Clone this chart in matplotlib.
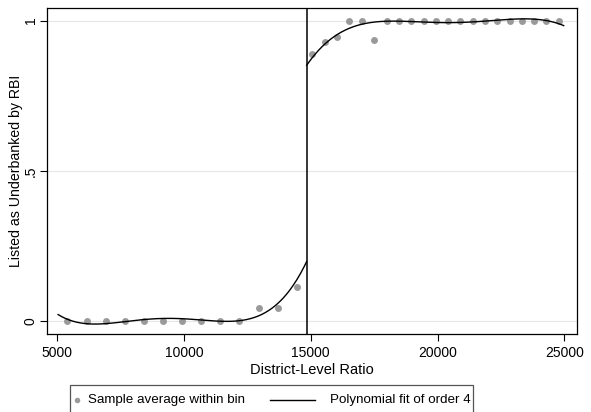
import numpy as np
import matplotlib.pyplot as plt
from matplotlib.patches import Rectangle
from matplotlib.lines import Line2D

plt.rcParams['font.family'] = ['Liberation Sans', 'DejaVu Sans']

# --- data ---
cutoff = 14840

# binned sample averages, left of cutoff
left_x = [5395, 6158, 6908, 7658, 8408, 9171, 9934, 10684, 11434, 12184, 12961, 13697, 14447]
left_y = [0.0, 0.0, 0.0, 0.0, 0.0, 0.0, 0.0, 0.0, 0.0, 0.0, 0.043, 0.043, 0.114]

# binned sample averages, right of cutoff
right_x = [15065, 15566, 16052, 16526, 17015, 17513, 18002, 18476, 18962, 19447, 19921,
           20410, 20896, 21382, 21871, 22357, 22843, 23332, 23818, 24292, 24777]
right_y = [0.889, 0.928, 0.947, 0.999, 1.0, 0.937, 1.0, 1.0, 1.0, 1.0, 1.0,
           1.0, 1.0, 1.0, 1.0, 1.0, 1.0, 1.0, 1.0, 1.0, 1.0]

# readings of the fitted curves (used to recover the order-4 polynomials)
fitl_x = [5038, 6419, 8460, 9183, 9842, 11157, 12211, 13000, 13790, 14382, 14816]
fitl_y = [0.023, -0.010, 0.007, 0.011, 0.009, 0.0, 0.001, 0.023, 0.067, 0.128, 0.195]
fitr_x = [14856, 15566, 16356, 17015, 17935, 19842, 21686, 23660, 24252, 24975]
fitr_y = [0.853, 0.925, 0.966, 0.988, 0.999, 0.994, 0.997, 1.005, 1.002, 0.983]

legend_labels = ['Sample average within bin', 'Polynomial fit of order 4']

# --- order 4 fits ---
cl = np.polyfit(fitl_x, fitl_y, 4)
cr = np.polyfit(fitr_x, fitr_y, 4)
xl = np.linspace(fitl_x[0], cutoff, 200)
xr = np.linspace(cutoff, fitr_x[-1], 200)

W, H = 591, 412
fig = plt.figure(figsize=(W/100, H/100), dpi=100)
ax = fig.add_axes([47/W, 1-334/H, 530/W, 326/H])

for yv in [0, 0.5, 1]:
    ax.axhline(yv, color='#e6e6e6', lw=0.8, zorder=0)

ax.plot(left_x, left_y, 'o', color='#9a9a9a', ms=5, mec='none', zorder=2)
ax.plot(right_x, right_y, 'o', color='#9a9a9a', ms=5, mec='none', zorder=2)
ax.plot(xl, np.polyval(cl, xl), color='black', lw=1, zorder=3)
ax.plot(xr, np.polyval(cr, xr), color='black', lw=1, zorder=3)
ax.axvline(cutoff, color='black', lw=1.1, zorder=3)

ax.set_xlim(4600, 25500)
ax.set_ylim(-0.042, 1.042)
ax.set_xticks([5000, 10000, 15000, 20000, 25000])
ax.set_yticks([0, 0.5, 1])
ax.set_yticklabels(['0', '.5', '1'], rotation=90, va='center')
ax.tick_params(direction='out', length=5, width=0.8, labelsize=10, colors='black')
ax.tick_params(axis='y', pad=1.5)
for s in ax.spines.values():
    s.set_linewidth(0.9)

ax.set_xlabel('District-Level Ratio', fontsize=10.5, labelpad=2)
ax.set_ylabel('Listed as Underbanked by RBI', fontsize=10.2, labelpad=1)

# --- legend box (bottom edge runs off the figure, as in the reference) ---
fig.add_artist(Rectangle((70/W, -0.05), (473-70)/W, 0.05 + 1-385/H,
                         transform=fig.transFigure, facecolor='white',
                         edgecolor='#555555', lw=0.9))
ty = 1-400/H
fig.add_artist(Line2D([77/W], [ty], marker='o', color='#9a9a9a', ms=4, mec='none',
                      transform=fig.transFigure))
fig.text(88/W, ty, legend_labels[0], fontsize=9.6, va='center', ha='left')
fig.add_artist(Line2D([270/W, 315/W], [ty, ty], color='black', lw=1,
                      transform=fig.transFigure))
fig.text(330/W, ty, legend_labels[1], fontsize=9.6, va='center', ha='left')

fig.savefig('out.png', dpi=100)
